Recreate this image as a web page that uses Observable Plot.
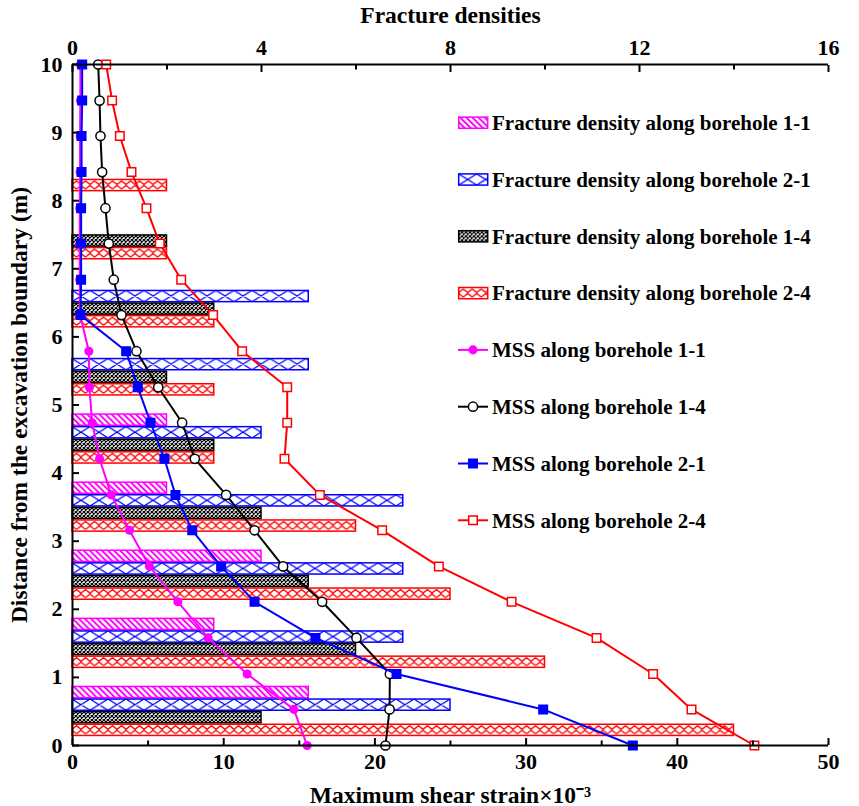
<!DOCTYPE html>
<html><head><meta charset="utf-8">
<script src="https://cdn.jsdelivr.net/npm/d3@7"></script>
<script src="https://cdn.jsdelivr.net/npm/@observablehq/plot@0.6"></script>
<style>
body{margin:0;background:#fff;}
#chart{width:859px;height:806px;}
#chart svg text{font-family:"Liberation Serif","Times New Roman",serif;font-weight:bold;}
g[aria-label="x-axis label"] text, g[aria-label="y-axis label"] text{font-size:23.5px;}
</style></head><body><div id="chart"></div>
<script>
// ---- data ----
const mssDepth = [0,0.53,1.05,1.58,2.11,2.63,3.16,3.68,4.21,4.74,5.26,5.79,6.32,6.84,7.37,7.89,8.42,8.95,9.47,10];
const mss11 = [15.52,14.64,11.55,8.97,6.97,5.09,3.77,2.56,1.79,1.30,1.12,1.08,0.50,0.48,0.48,0.48,0.50,0.50,0.52,0.52];
const mss14 = [20.70,20.97,20.99,18.78,16.51,13.93,12.04,10.16,8.09,7.25,5.67,4.23,3.24,2.73,2.40,2.18,1.96,1.85,1.79,1.70];
const mss21 = [37.06,31.13,21.43,16.07,12.04,9.83,7.92,6.81,6.08,5.16,4.32,3.55,0.53,0.57,0.57,0.57,0.60,0.60,0.64,0.64];
const mss24 = [45.1,40.94,38.40,34.66,29.04,24.23,20.48,16.36,14.02,14.2,14.2,11.22,9.30,7.19,5.77,4.89,3.90,3.13,2.62,2.23];

const fdDepth = [0.5,1.5,2.5,3.5,4.5,5.5,6.5,7.5,8.5];
const fd11 = [5,3,4,2,2,0,0,0,0];
const fd21 = [8,7,7,7,4,5,5,0,0];
const fd14 = [4,6,5,4,3,2,3,2,0];
const fd24 = [14,10,8,6,3,3,3,2,2];

const strainTicks = [0,10,20,30,40,50];
const strainMinor = [5,15,25,35,45];
const densityTicks = [0,4,8,12,16];
const densityMinor = [2,6,10,14];
const depthTicks = [0,1,2,3,4,5,6,7,8,9,10];

const strainMax = 50, densityMax = 16;
const k = strainMax / densityMax;

// ---- series styling ----
const barSeries = [
  {label:"Fracture density along borehole 1-1", values: fd11, color:"#ff00ff", pattern:"pat11", slot:3},
  {label:"Fracture density along borehole 2-1", values: fd21, color:"#0000ff", pattern:"pat21", slot:2},
  {label:"Fracture density along borehole 1-4", values: fd14, color:"#000000", pattern:"pat14", slot:1},
  {label:"Fracture density along borehole 2-4", values: fd24, color:"#ff0000", pattern:"pat24", slot:0}
];
const lineSeries = [
  {label:"MSS along borehole 1-1", values: mss11, color:"#ff00ff", symbol:"circle", r:3.8, fill:"#ff00ff"},
  {label:"MSS along borehole 1-4", values: mss14, color:"#000000", symbol:"circle", r:4.6, fill:"white"},
  {label:"MSS along borehole 2-1", values: mss21, color:"#0000ff", symbol:"square", r:4.8, fill:"#0000ff"},
  {label:"MSS along borehole 2-4", values: mss24, color:"#ff0000", symbol:"square", r:4.8, fill:"white"}
];
const slotH = 0.185;

function defsMark() {
  const defs = d3.create("svg:defs");
  const p1 = defs.append("pattern").attr("id","pat11").attr("patternUnits","userSpaceOnUse")
    .attr("width",4.3).attr("height",4.3).attr("patternTransform","rotate(-45)");
  p1.append("rect").attr("width",4.3).attr("height",4.3).attr("fill","white");
  p1.append("rect").attr("x",0).attr("width",1.9).attr("height",4.3).attr("fill","#ff00ff");
  const p2 = defs.append("pattern").attr("id","pat21").attr("patternUnits","objectBoundingBox")
    .attr("x",0).attr("y",0).attr("width",1).attr("height",1);
  p2.append("rect").attr("width",1000).attr("height",40).attr("fill","white");
  let dp = "";
  const H = 11.2, P = 18;
  for (let i = 0; i < 1000; i += P) dp += `M${i},0L${i+P},${H}M${i+P},0L${i},${H}`;
  p2.append("path").attr("d",dp).attr("stroke","#0000ff").attr("stroke-width",1.3).attr("fill","none");
  const p3 = defs.append("pattern").attr("id","pat14").attr("patternUnits","userSpaceOnUse")
    .attr("width",4).attr("height",4);
  p3.append("rect").attr("width",4).attr("height",4).attr("fill","white");
  p3.append("path").attr("d","M0,0L4,4M4,0L0,4").attr("stroke","#000").attr("stroke-width",1.2);
  const p4 = defs.append("pattern").attr("id","pat24").attr("patternUnits","objectBoundingBox")
    .attr("x",0).attr("y",0).attr("width",1).attr("height",1);
  p4.append("rect").attr("width",1000).attr("height",40).attr("fill","white");
  let rp = "";
  const Q = 9;
  for (let i = -Q; i < 1000; i += Q) {
    rp += `M${i},5L${i+Q/2},1.5L${i+Q},5`;
    rp += `M${i+Q/2},9.5L${i+Q},6L${i+1.5*Q},9.5`;
  }
  p4.append("path").attr("d",rp).attr("stroke","#ff0000").attr("stroke-width",1.3).attr("fill","none");
  return defs.node();
}

function legendMark() {
  const g = d3.create("svg:g").attr("font-size",21).attr("font-weight","bold").attr("text-anchor","start")
    .attr("font-family","'Liberation Serif','Times New Roman',serif");
  const items = [...barSeries.map(s => ({...s, type:"bar"})), ...lineSeries.map(s => ({...s, type:"line"}))];
  items.forEach((it, i) => {
    const y = 122.7 + i * 56.8;
    const row = g.append("g").attr("transform", `translate(458,${y})`);
    if (it.type === "bar") {
      row.append("rect").attr("x",0.7).attr("y",-5.6).attr("width",29).attr("height",11.2)
        .attr("fill",`url(#${it.pattern})`).attr("stroke",it.color).attr("stroke-width",1.5);
    } else {
      row.append("line").attr("x1",0).attr("x2",30).attr("y1",0).attr("y2",0)
        .attr("stroke",it.color).attr("stroke-width",2);
      const sym = d3.symbol(it.symbol === "square" ? d3.symbolSquare : d3.symbolCircle, it.r*it.r*Math.PI);
      row.append("path").attr("d",sym()).attr("transform","translate(15,0)")
        .attr("fill",it.fill).attr("stroke",it.color).attr("stroke-width",1.5);
    }
    row.append("text").attr("x",34).attr("dy","0.35em").attr("fill","black")
      .attr("text-anchor","start").text(it.label);
  });
  return g.node();
}

const barMarks = barSeries.map(s => {
  const data = fdDepth.map((c, i) => ({c, v: s.values[i]})).filter(d => d.v > 0);
  return Plot.rectX(data, {
    x1: 0, x2: d => d.v * k,
    y1: d => d.c - 2 * slotH + s.slot * slotH,
    y2: d => d.c - 2 * slotH + (s.slot + 1) * slotH,
    insetTop: 0.7, insetBottom: 0.7,
    fill: `url(#${s.pattern})`, stroke: s.color, strokeWidth: 1.5
  });
});

const lineMarks = lineSeries.flatMap(s => {
  const data = mssDepth.map((y, i) => ({y, x: s.values[i]}));
  return [
    Plot.line(data, {x: "x", y: "y", stroke: s.color, strokeWidth: 2}),
    Plot.dot(data, {x: "x", y: "y", symbol: s.symbol, r: s.r, fill: s.fill, stroke: s.color, strokeWidth: 1.5})
  ];
});

const plot = Plot.plot({
  width: 859, height: 806,
  marginLeft: 72, marginRight: 31, marginTop: 64, marginBottom: 61,
  x: {domain: [0, strainMax]},
  y: {domain: [0, 10]},
  style: {fontFamily: "'Liberation Serif','Times New Roman',serif", fontWeight: "bold", fontSize: "22px", color: "black", background: "white", overflow: "visible"},
  marks: [
    defsMark,
    ...barMarks,
    ...lineMarks,
    Plot.ruleX([0], {stroke: "black", strokeWidth: 2}),
    Plot.ruleY([0, 10], {stroke: "black", strokeWidth: 2}),
    Plot.axisY(depthTicks, {anchor: "left", tickSize: -7, tickPadding: 17, strokeWidth: 2,
      tickFormat: d => String(d),
      label: "Distance from the excavation boundary (m)", labelAnchor: "center", labelArrow: "none", labelOffset: 62}),
    Plot.axisX(strainTicks, {anchor: "bottom", tickSize: -7, tickPadding: 15, strokeWidth: 2,
      tickFormat: d => String(d),
      label: "Maximum shear strain×10⁻³", labelAnchor: "center", labelArrow: "none", labelOffset: 57}),
    Plot.axisX(strainMinor, {anchor: "bottom", tickSize: -4.5, tickFormat: () => "", strokeWidth: 2, label: null}),
    Plot.axisX(densityTicks.map(d => d * k), {anchor: "top", tickSize: -7, tickPadding: 17, strokeWidth: 2,
      tickFormat: d => String(Math.round(d / k)),
      label: "Fracture densities", labelAnchor: "center", labelArrow: "none", labelOffset: 58}),
    Plot.axisX(densityMinor.map(d => d * k), {anchor: "top", tickSize: -4.5, tickFormat: () => "", strokeWidth: 2, label: null}),
    legendMark
  ]
});
document.getElementById("chart").appendChild(plot);
</script>
</body></html>
